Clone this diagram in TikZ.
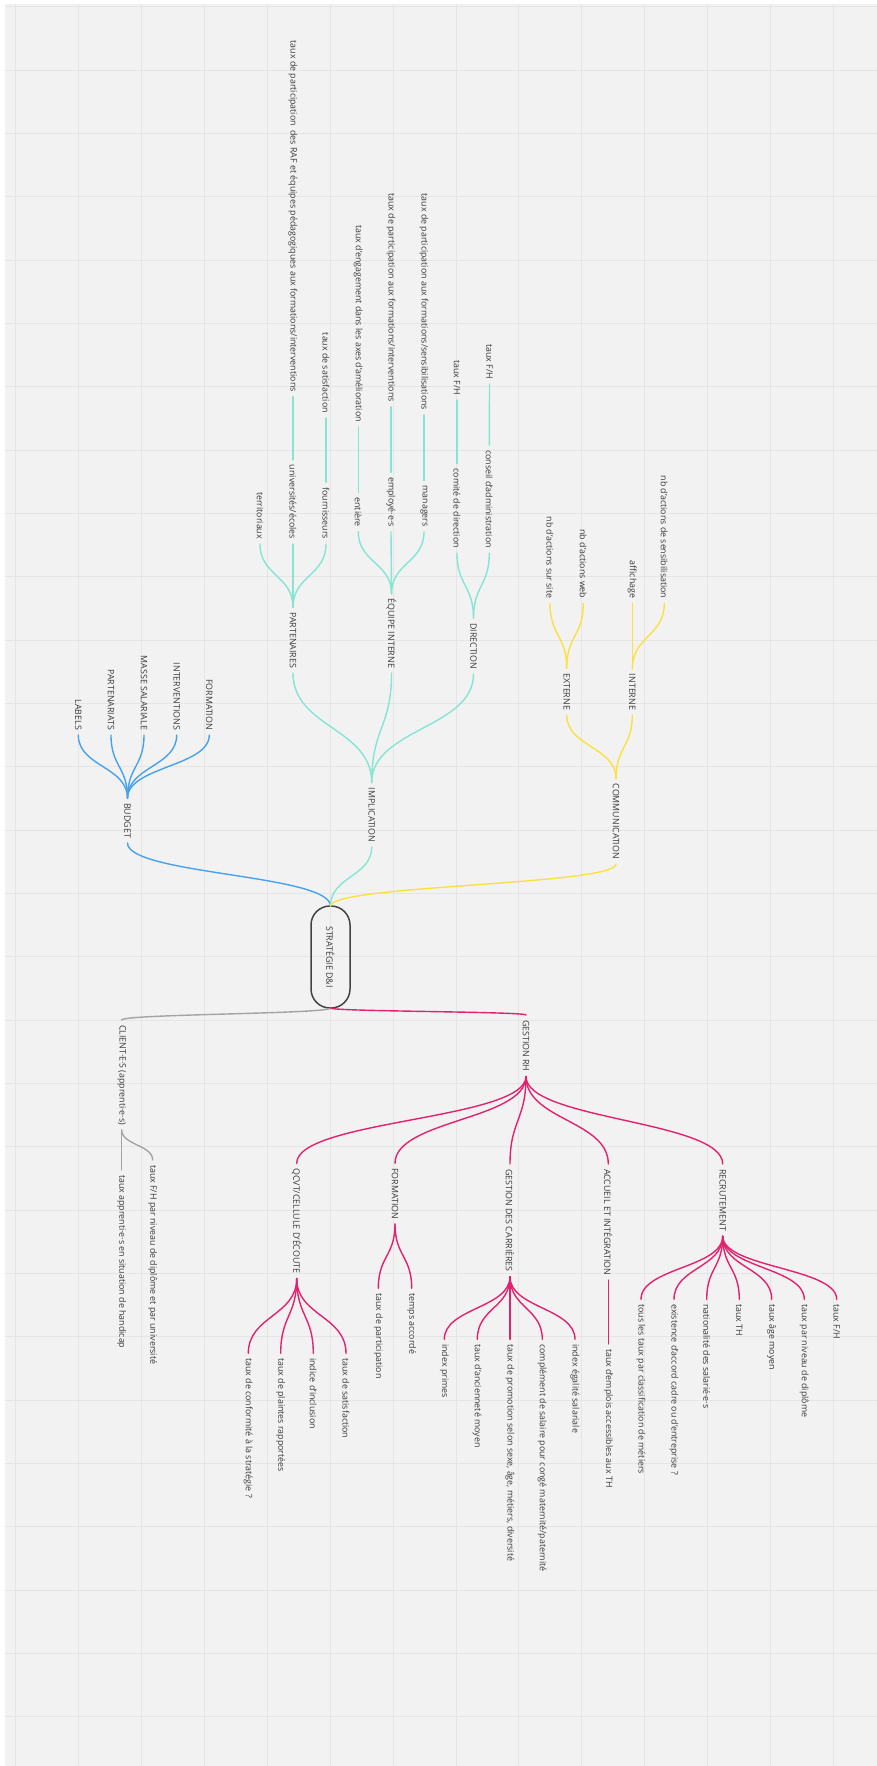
\documentclass[tikz,border=0pt]{standalone}
\usepackage{fontspec}
\setmainfont{Open Sans}
\usetikzlibrary{calc}
\definecolor{bgc}{HTML}{F2F2F2}
\definecolor{gridc}{HTML}{E5E5E5}
\definecolor{txt}{HTML}{3A3A3A}
\definecolor{cblue}{HTML}{47A2EE}
\definecolor{cteal}{HTML}{84E6D2}
\definecolor{cyel}{HTML}{FBE140}
\definecolor{cpink}{HTML}{E2226F}
\definecolor{cgray}{HTML}{A3A3A3}
\definecolor{cbox}{HTML}{444444}
\tikzset{
  lbl/.style={rotate=-90, font=\fontsize{8.85}{10.5}\selectfont, text=txt, inner xsep=5pt, inner ysep=1pt, outer sep=0pt},
  up/.style={lbl, anchor=east},
  dn/.style={lbl, anchor=west},
  br/.style={line width=1.4pt, line cap=round},
  gridl/.style={draw=gridc, line width=0.9pt},
}
\newcommand\cc[3]{\draw[br,#1] let \p1=(#2), \p2=(#3) in (\p1) .. controls (\x1,{0.5*\y1+0.5*\y2}) and (\x2,{0.5*\y1+0.5*\y2}) .. (\p2);}
\begin{document}
\begin{tikzpicture}[x=1pt,y=-1pt]
\useasboundingbox (0,0) rectangle (877,1766);
\fill[white] (0,0) rectangle (877,1766);
\fill[bgc] (5,4) rectangle (877,1766);
\foreach \i in {0,...,13} \draw[gridl] ({15.7+62.9*\i},4) -- ({15.7+62.9*\i},1766);
\foreach \j in {0,...,27} \draw[gridl] (5,{6.7+63.33*\j}) -- (877,{6.7+63.33*\j});

% centre
\node[lbl, draw=cbox, line width=1.5pt, minimum width=102pt, minimum height=39pt, rounded corners=19pt, anchor=center] (c) at (330.5,957) {STRATÉGIE D\&I};

% BUDGET
\node[up] (budget) at (127.5,843) {BUDGET};
\node[up] (labels) at (78.3,735) {LABELS};
\node[up] (partenariats) at (111,735) {PARTENARIATS};
\node[up] (masse) at (144,735) {MASSE SALARIALE};
\node[up] (interv) at (176.7,735) {INTERVENTIONS};
\node[up] (formb) at (209.3,735) {FORMATION};

% IMPLICATION
\node[up] (impl) at (371.7,847) {IMPLICATION};
\node[up] (part) at (293,673) {PARTENAIRES};
\node[up] (equipe) at (391.5,673) {ÉQUIPE INTERNE};
\node[up] (dir) at (473.5,674) {DIRECTION};
\node[up] (terr) at (260,544) {territoriaux};
\node[up] (univ) at (293,544) {universités/écoles};
\node[up] (fourn) at (326,544) {fournisseurs};
\node[up] (traf) at (293,396.7) {taux de participation\ \ des RAF et équipes pédagogiques aux formations/interventions};
\node[up] (tsat1) at (326,418) {taux de satisfaction};
\node[up] (entiere) at (358.3,531.7) {entière};
\node[up] (employe) at (391,531.7) {employé·e·s};
\node[up] (managers) at (424,531.7) {managers};
\node[up] (teng) at (358.3,427) {taux d'engagement dans les axes d'amélioration};
\node[up] (tpfi) at (391,406.7) {taux de participation aux formations/interventions};
\node[up] (tpfs) at (424,415) {taux de participation aux formations/sensibilisations};
\node[up] (comite) at (457,553) {comité de direction};
\node[up] (conseil) at (489.3,553) {conseil d'administration};
\node[up] (tfha) at (457,400) {taux F/H};
\node[up] (tfhb) at (489.5,384) {taux F/H};

% COMMUNICATION
\node[up] (comm) at (616,864) {COMMUNICATION};
\node[up] (ext) at (566.7,715) {EXTERNE};
\node[up] (int) at (632.3,715) {INTERNE};
\node[up] (site) at (550,603.3) {nb d'actions sur site};
\node[up] (web) at (583.3,603.3) {nb d'actions web};
\node[up] (affich) at (632.3,603.3) {affichage};
\node[up] (sensi) at (664.3,603.3) {nb d'actions de sensibilisation};

% CLIENT
\node[dn] (client) at (121.7,1020) {CLIENT·E·S (apprenti·e·s)};
\node[dn] (thand) at (121.7,1170) {taux apprenti·e·s en situation de handicap};
\node[dn] (tfhdip) at (152.7,1160) {taux F/H par niveau de diplôme et par université};

% GESTION RH
\node[dn] (rh) at (526,1015) {GESTION RH};
\node[dn] (qcvt) at (296.7,1163.3) {QCVT/CELLULE D'ÉCOUTE};
\node[dn] (formrh) at (395,1163.3) {FORMATION};
\node[dn] (gdc) at (510,1164) {GESTION DES CARRIÈRES};
\node[dn] (accueil) at (608.3,1164) {ACCUEIL ET INTÉGRATION};
\node[dn] (recr) at (722.7,1164) {RECRUTEMENT};

\node[dn] (q1) at (248.3,1353.3) {taux de conformité à la stratégie ?};
\node[dn] (q2) at (280.7,1353.3) {taux de plaintes rapportées};
\node[dn] (q3) at (313.3,1353.3) {indice d'inclusion};
\node[dn] (q4) at (346,1353.3) {taux de satisfaction};

\node[dn] (f1) at (378.3,1288.3) {taux de participation};
\node[dn] (f2) at (411.7,1288.3) {temps accordé};

\node[dn] (g1) at (444.3,1339.3) {index primes};
\node[dn] (g2) at (477.3,1339.3) {taux d'ancienneté moyen};
\node[dn] (g3) at (510,1339.3) {taux de promotion selon sexe, âge, métiers, diversité};
\node[dn] (g4) at (542.3,1339.3) {complément de salaire pour congé maternité/paternité};
\node[dn] (g5) at (575,1339.3) {index égalité salariale};

\node[dn] (a1) at (608.3,1344) {taux d'emplois accessibles aux TH};

\node[dn] (r1) at (641,1299.3) {tous les taux par classification de métiers};
\node[dn] (r2) at (674,1299.3) {existence d'accord cadre ou d'entreprise ?};
\node[dn] (r3) at (706.7,1299.3) {nationalité des salarié·e·s};
\node[dn] (r4) at (739.3,1299.3) {taux TH};
\node[dn] (r5) at (771.7,1299.3) {taux âge moyen};
\node[dn] (r6) at (804.3,1299.3) {taux par niveau de diplôme};
\node[dn] (r7) at (836.7,1299.3) {taux F/H};

% connectors: blue
\cc{cblue}{c.west}{budget.east}
\foreach \m in {labels,partenariats,masse,interv,formb} {\cc{cblue}{budget.west}{\m.east}}
% teal
\cc{cteal}{c.west}{impl.east}
\foreach \m in {part,equipe,dir} {\cc{cteal}{impl.west}{\m.east}}
\foreach \m in {terr,univ,fourn} {\cc{cteal}{part.west}{\m.east}}
\cc{cteal}{univ.west}{traf.east}
\cc{cteal}{fourn.west}{tsat1.east}
\foreach \m in {entiere,employe,managers} {\cc{cteal}{equipe.west}{\m.east}}
\cc{cteal}{entiere.west}{teng.east}
\cc{cteal}{employe.west}{tpfi.east}
\cc{cteal}{managers.west}{tpfs.east}
\foreach \m in {comite,conseil} {\cc{cteal}{dir.west}{\m.east}}
\cc{cteal}{comite.west}{tfha.east}
\cc{cteal}{conseil.west}{tfhb.east}
% yellow
\cc{cyel}{c.west}{comm.east}
\foreach \m in {ext,int} {\cc{cyel}{comm.west}{\m.east}}
\foreach \m in {site,web} {\cc{cyel}{ext.west}{\m.east}}
\foreach \m in {affich,sensi} {\cc{cyel}{int.west}{\m.east}}
% gray
\cc{cgray}{c.east}{client.west}
\foreach \m in {thand,tfhdip} {\cc{cgray}{client.east}{\m.west}}
% pink
\cc{cpink}{c.east}{rh.west}
\foreach \m in {qcvt,formrh,gdc,accueil,recr} {\cc{cpink}{rh.east}{\m.west}}
\foreach \m in {q1,q2,q3,q4} {\cc{cpink}{qcvt.east}{\m.west}}
\foreach \m in {f1,f2} {\cc{cpink}{formrh.east}{\m.west}}
\foreach \m in {g1,g2,g3,g4,g5} {\cc{cpink}{gdc.east}{\m.west}}
\cc{cpink}{accueil.east}{a1.west}
\foreach \m in {r1,r2,r3,r4,r5,r6,r7} {\cc{cpink}{recr.east}{\m.west}}
\end{tikzpicture}
\end{document}
